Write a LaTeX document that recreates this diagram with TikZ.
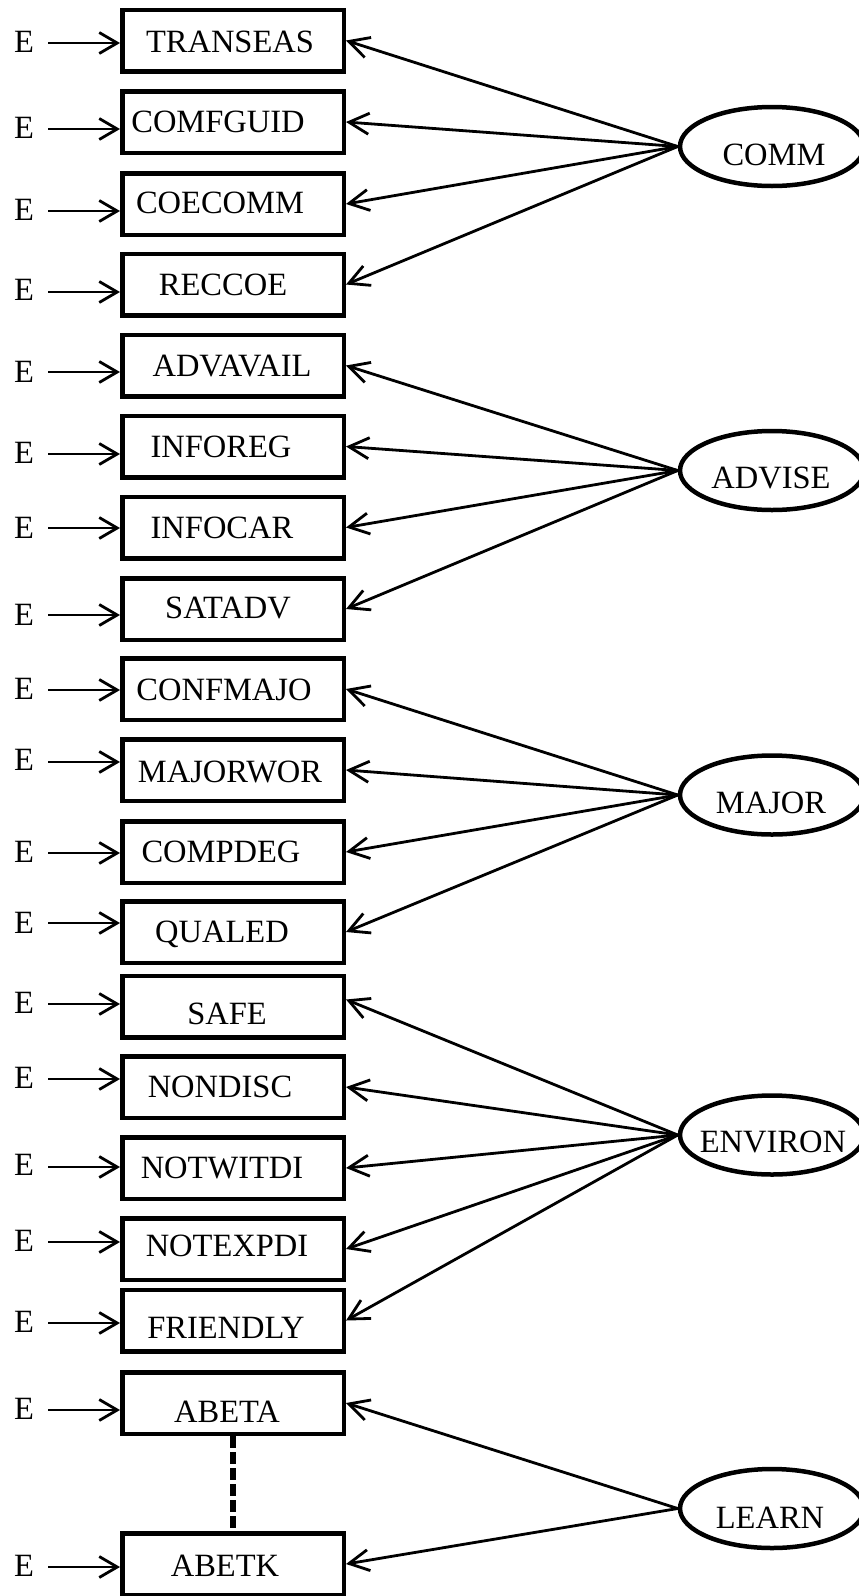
\documentclass[tikz,border=0pt]{standalone}
\usepackage{fontspec}
\setmainfont{Liberation Serif}
\usetikzlibrary{arrows.meta,shapes.geometric}
\begin{document}
\begin{tikzpicture}[x=1pt,y=-1pt,
  every node/.style={font=\fontsize{32.5}{39}\selectfont, inner sep=0pt},
  item/.style={draw, rectangle, line width=4.5pt, minimum width=221.5pt, minimum height=61.5pt},
  factor/.style={draw, ellipse, line width=4.5pt, minimum width=184pt, minimum height=79pt},
  lbl/.style={anchor=base},
  err/.style={line width=2.8pt, -{Straight Barb[length=18pt,width=21pt]}},
  load/.style={line width=2.8pt, -{Straight Barb[length=20pt,width=21pt]}},
  corr/.style={line width=5.5pt, dash pattern=on 12pt off 4pt}
]
\useasboundingbox (0,0) rectangle (859,1596);

% observed indicators with their error terms
\foreach \i/\yc/\ya/\eb/\tx/\tb/\txt in {
  1/40.5/43/52/230/52/TRANSEAS,
  2/122/129/138/218/132/COMFGUID,
  3/204/211/220/220/213/COECOMM,
  4/284.5/292/300/223/295/RECCOE,
  5/365.5/372/382/232/376/ADVAVAIL,
  6/446.5/454/463/221/457/INFOREG,
  7/527.5/528/538/222/538/INFOCAR,
  8/609/615/625/228/618/SATADV,
  9/689/690/699/224/700/CONFMAJO,
  10/770/762/770/230/782/MAJORWOR,
  11/852/853/862/221/862/COMPDEG,
  12/932/923/933/222/942/QUALED,
  13/1006.5/1004/1013/227/1024/SAFE,
  14/1087/1079/1088/220/1097/NONDISC,
  15/1168/1167/1175/222/1178/NOTWITDI,
  16/1249/1242/1251/227/1256/NOTEXPDI,
  17/1320.5/1323/1332/226/1338/FRIENDLY,
  18/1403/1410/1419/227/1422/ABETA,
  19/1564/1567/1576/225/1576/ABETK}
{
  \node[item] (b\i) at (233,\yc) {};
  \node[lbl] (t\i) at (\tx,\tb) {\txt};
  \node[lbl] (e\i) at (24,\eb) {E};
  \coordinate (s\i) at (48,\ya);
  \draw[err] (s\i) -- (s\i -| b\i.west);
}

% latent factors
\node[factor] (comm) at (772,146.5) {};
\node[lbl] (comm-t) at (774,165) {COMM};
\node[factor] (advise) at (772,470.5) {};
\node[lbl] (advise-t) at (771,488) {ADVISE};
\node[factor] (major) at (772,795) {};
\node[lbl] (major-t) at (771,813) {MAJOR};
\node[factor] (environ) at (772,1135) {};
\node[lbl] (environ-t) at (773,1152) {ENVIRON};
\node[factor] (learn) at (772,1508.5) {};
\node[lbl] (learn-t) at (770,1528) {LEARN};

% factor loadings
\foreach \i in {1,...,4} \draw[load] (comm.west) -- (b\i.east);
\foreach \i in {5,...,8} \draw[load] (advise.west) -- (b\i.east);
\foreach \i in {9,...,12} \draw[load] (major.west) -- (b\i.east);
\draw[load] (environ.west) -- ([yshift=7pt]b13.east);
\foreach \i in {14,...,17} \draw[load] (environ.west) -- (b\i.east);
\foreach \i in {18,19} \draw[load] (learn.west) -- (b\i.east);

% correlated indicators
\draw[corr] (b18.south) -- (b19.north);
\end{tikzpicture}
\end{document}
